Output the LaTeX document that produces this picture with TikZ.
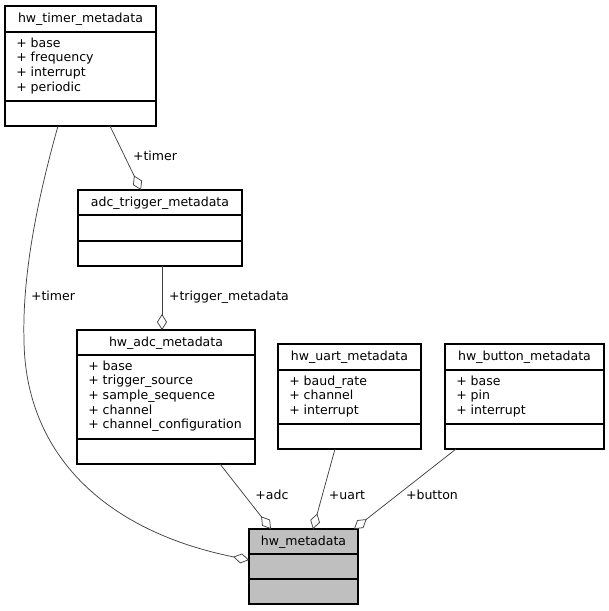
\documentclass[tikz,border=0pt]{standalone}
\usepackage{fontspec}
\setmainfont{DejaVu Sans}
\usetikzlibrary{arrows.meta,calc}
\definecolor{edgegray}{HTML}{404040}
\definecolor{metagray}{HTML}{BFBFBF}
\tikzset{
  cls/.style={draw=black, line width=0.8pt, inner sep=0pt, outer sep=0pt},
  clsfill/.style={fill=white},
  sepline/.style={draw=black, line width=0.8pt},
  txt/.style={font=\fontsize{9.4}{11}\selectfont, inner sep=0pt, text=black},
  conn/.style={draw=edgegray, line width=0.55pt, -{Diamond[open, fill=white, length=12pt, width=7.5pt]}},
}
% name, x1, y1, x2, y2, sep1, sep2, title
\newcommand\umlclass[8]{%
  \node[cls, clsfill, anchor=north west, minimum width={(#4-#2)*0.75pt}, minimum height={(#5-#3)*0.75pt}] (#1) at (#2,#3) {};
  \draw[sepline] (#2,#6) -- (#4,#6);
  \draw[sepline] (#2,#7) -- (#4,#7);
  \node[txt, anchor=base] (#1-title) at ({(#2+#4)/2},{#3+16.5}) {#8};
}
% name, x1, sep1, list
\newcommand\umlattrs[4]{%
  \foreach \a [count=\i] in {#4} {%
    \node[txt, anchor=base west] (#1-a\i) at ({#2+11},{#3+15.2+(\i-1)*14.67}) {+ \a};
  }%
}
\begin{document}
\begin{tikzpicture}[x=0.75pt, y=-0.75pt]
\useasboundingbox (0,0) rectangle (609,611);

\umlclass{timer}{5}{6}{156}{126}{32}{101}{hw\_timer\_metadata}
\umlattrs{timer}{5}{32}{base,frequency,interrupt,periodic}

\umlclass{trig}{78}{190}{242}{266}{215}{241}{adc\_trigger\_metadata}

\umlclass{adc}{77}{330}{255}{464}{355}{439}{hw\_adc\_metadata}
\umlattrs{adc}{77}{355}{base,trigger\_source,sample\_sequence,channel,channel\_configuration}

\umlclass{uart}{278}{344}{421}{449}{370}{424}{hw\_uart\_metadata}
\umlattrs{uart}{278}{370}{baud\_rate,channel,interrupt}

\umlclass{button}{445}{344}{604}{449}{370}{424}{hw\_button\_metadata}
\umlattrs{button}{445}{370}{base,pin,interrupt}

\tikzset{clsfill/.style={fill=metagray}}
\umlclass{meta}{249}{529}{358}{604}{554}{579}{hw\_metadata}

% connectors
\draw[conn] ($(timer.south west)+(105,0)$) -- ($(trig.north west)+(63,0)$);
\draw[conn] ($(trig.south west)+(84,0)$) -- ($(adc.north west)+(85,0)$);
\draw[conn] ($(adc.south west)+(143,0)$) -- ($(meta.north west)+(22,0)$);
\draw[conn] ($(uart.south west)+(57,0)$) -- ($(meta.north west)+(64,0)$);
\draw[conn] ($(button.south west)+(11,0)$) -- ($(meta.north west)+(105,0)$);
\draw[conn] ($(timer.south west)+(53,0)$) .. controls (40,190) and (22,270) .. (24,340)
   .. controls (25,450) and (100,530) .. ($(meta.north west)+(0,31)$);

% labels
\node[txt, anchor=base] (l-timer1) at (155,160.5) {+timer};
\node[txt, anchor=base] (l-timer2) at (53,300.5) {+timer};
\node[txt, anchor=base] (l-trig) at (229,300.5) {+trigger\_metadata};
\node[txt, anchor=base] (l-adc) at (272,499.5) {+adc};
\node[txt, anchor=base] (l-uart) at (347,499.5) {+uart};
\node[txt, anchor=base] (l-button) at (432,499.5) {+button};
\end{tikzpicture}
\end{document}
